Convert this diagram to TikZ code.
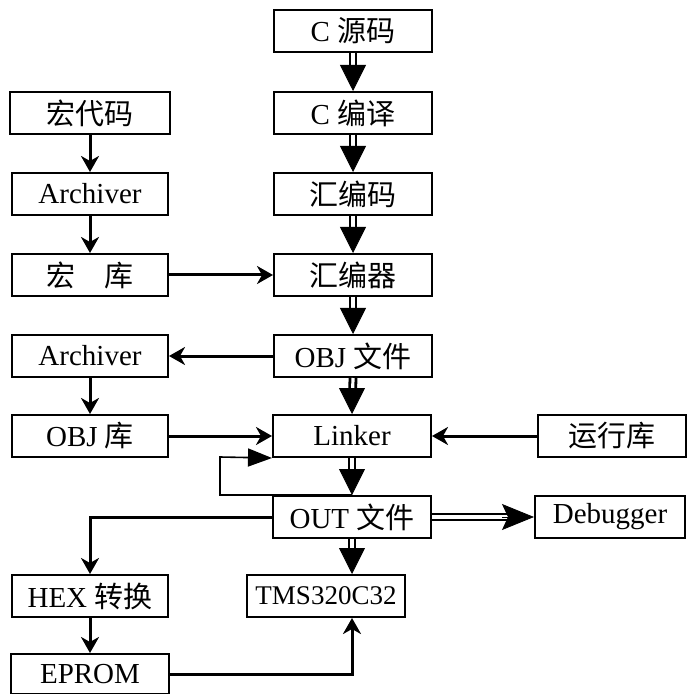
\documentclass[tikz,border=0pt]{standalone}
\usepackage{fontspec}
\setmainfont{Liberation Serif}
\newfontfamily\cjk{Noto Sans CJK SC}
\usetikzlibrary{arrows.meta,calc}

\tikzset{
  box/.style={draw, line width=1pt, minimum width=79pt, minimum height=21pt,
    inner sep=1pt, font=\fontsize{14.5}{16}\selectfont},
  sarrow/.style={line width=1.5pt, -{Stealth[length=8pt,width=9pt,inset=2.5pt]}},
  backarrow/.style={line width=0.8pt, -{Triangle[length=12pt,width=9pt]}},
  dblshaft/.style={double, line width=1.4pt, double distance=1.6pt, shorten >=11pt},
  dblhead/.style={line width=0.4pt, -{Triangle[length=13pt,width=13pt]}},
  dblhshaft/.style={double, line width=1pt, double distance=1.6pt, shorten >=12pt},
  dblhhead/.style={line width=0.4pt, -{Stealth[length=16pt,width=13pt,inset=3pt]}},
}
% dicke Doppelpfeile nach unten
\newcommand{\dblarrow}[2]{%
  \draw[dblshaft] (#1) -- (#2);
  \draw[dblhead] ($(#2)+(0pt,13pt)$) -- (#2);}

\begin{document}
\begin{tikzpicture}[x=0.5pt, y=-0.5pt]
\useasboundingbox (0,0) rectangle (688,694);

% mittlere Spalte
\node[box] (src)    at (353,31)  {C {\cjk 源码}};
\node[box] (ccomp)  at (353,113) {C {\cjk 编译}};
\node[box] (asm)    at (353,194) {{\cjk 汇编码}};
\node[box] (asmr)   at (353,275) {{\cjk 汇编器}};
\node[box] (obj)    at (353,356) {OBJ {\cjk 文件}};
\node[box] (linker) at (352,436) {Linker};
\node[box] (out)    at (352,517) {OUT {\cjk 文件}};
\node[box, font=\fontsize{13.5}{16}\selectfont] (tms) at (326,596) {TMS320C32};

% linke Spalte
\node[box, minimum width=80pt] (macro)  at (90,113) {{\cjk 宏代码}};
\node[box, minimum width=78pt] (arch1)  at (90,194) {Archiver};
\node[box, minimum width=78pt] (mlib)   at (90,275) {{\cjk 宏\quad 库}};
\node[box, minimum width=78pt] (arch2)  at (90,356) {Archiver};
\node[box, minimum width=78pt] (objlib) at (90,436) {OBJ {\cjk 库}};
\node[box, minimum width=78pt] (hex)    at (90,596) {HEX {\cjk 转换}};
\node[box, minimum width=79pt, minimum height=20pt] (eprom) at (90,674) {EPROM};

% rechte Spalte
\node[box, minimum width=74pt] (rtlib) at (612,436) {{\cjk 运行库}};
\node[box, minimum width=75pt] (dbg)   at (610,517) {Debugger};

% Hilfspunkte
\coordinate (tmsin)  at (out.south |- tms.north);
\coordinate (tmsbot) at (out.south |- tms.south);
\coordinate (fb)     at (220,457);

% Doppelpfeile
\dblarrow{src.south}{ccomp.north}
\dblarrow{ccomp.south}{asm.north}
\dblarrow{asm.south}{asmr.north}
\dblarrow{asmr.south}{obj.north}
\dblarrow{obj.south}{linker.north}
\dblarrow{linker.south}{out.north}
\dblarrow{out.south}{tmsin}
\draw[dblhshaft] (out.east) -- (dbg.west);
\draw[dblhhead] ($(dbg.west)+(-16pt,0pt)$) -- (dbg.west);

% einfache Pfeile
\draw[sarrow] (macro.south) -- (arch1.north);
\draw[sarrow] (arch1.south) -- (mlib.north);
\draw[sarrow] (mlib.east) -- (asmr.west);
\draw[sarrow] (obj.west) -- (arch2.east);
\draw[sarrow] (arch2.south) -- (objlib.north);
\draw[sarrow] (objlib.east) -- (linker.west);
\draw[sarrow] (rtlib.west) -- (linker.east);
\draw[sarrow] (out.west) -| (hex.north);
\draw[sarrow] (hex.south) -- (eprom.north);
\draw[sarrow] (eprom.east) -| (tmsbot);

% Rueckkopplung OUT -> Linker
\draw[backarrow] (out.north) -| (fb) -- (linker.south west);

\end{tikzpicture}
\end{document}
